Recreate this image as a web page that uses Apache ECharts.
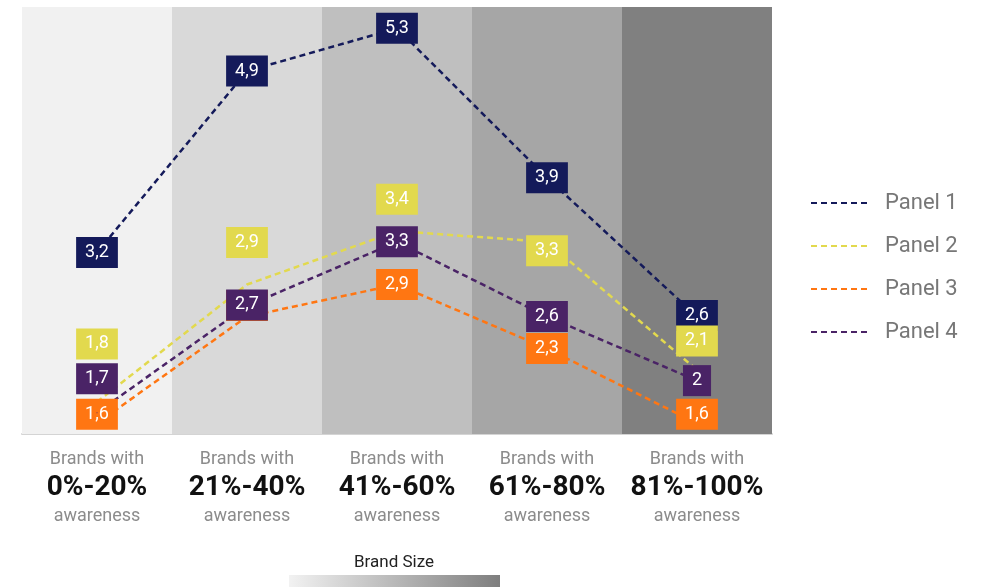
<!DOCTYPE html>
<html><head><meta charset="utf-8">
<script src="https://cdn.jsdelivr.net/npm/echarts@6/dist/echarts.min.js"></script>
<style>html,body{margin:0;padding:0;background:#fff}#c{width:984px;height:587px}</style>
</head><body><div id="c"></div>
<script>
// ---- data ----
const categories = ['0%-20%', '21%-40%', '41%-60%', '61%-80%', '81%-100%'];
const panel1 = [3.2, 4.9, 5.3, 3.9, 2.6];
const panel2 = [1.8, 2.9, 3.4, 3.3, 2.1];
const panel3 = [1.6, 2.6, 2.9, 2.3, 1.6];
const panel4 = [1.7, 2.7, 3.3, 2.6, 2.0];
const seriesNames = ['Panel 1', 'Panel 2', 'Panel 3', 'Panel 4'];
const brandSizeBands = [1, 1, 1, 1, 1];

// ---- styling (kept apart from data) ----
const colors = ['#141a5a', '#e2d94e', '#ff7612', '#4a2366'];
const bandColors = ['#f1f1f1', '#d9d9d9', '#bfbfbf', '#a6a6a6', '#808080'];
const labelNudge = [
  [0, 0, 0, 0, -1],
  [-58, -42, -32, 9, -29],
  [-9, -11, 0, 0, -9],
  [-34, -1, 0, 0, 0]
];

const fmt = v => String(v).replace('.', ',');
const allPanels = [panel1, panel2, panel3, panel4];

const lineSeries = allPanels.map((vals, si) => ({
  name: seriesNames[si],
  type: 'line',
  z: 3,
  symbol: 'none',
  color: colors[si],
  itemStyle: { color: colors[si] },
  lineStyle: { color: colors[si], width: 2.5, type: [6, 4] },
  emphasis: { disabled: true },
  data: vals
}));

const labelSeries = allPanels.map((vals, si) => ({
  name: seriesNames[si] + ' labels',
  type: 'scatter',
  z: 10 + si,
  symbolSize: 1,
  itemStyle: { color: colors[si], opacity: 1 },
  emphasis: { disabled: true },
  silent: true,
  data: vals.map((v, i) => ({
    value: v,
    label: { offset: [0, labelNudge[si][i]] }
  })),
  label: {
    show: true,
    position: 'inside',
    opacity: 1,
    formatter: p => fmt(p.value),
    color: '#fff',
    fontFamily: 'Roboto',
    fontSize: 18,
    backgroundColor: colors[si],
    padding: [7, 9, 6, 9]
  }
}));

const chart = echarts.init(document.getElementById('c'));
chart.setOption({
  animation: false,
  backgroundColor: '#fff',
  grid: { left: 22, right: 212, top: 7, bottom: 153 },
  xAxis: [{
    type: 'category',
    data: categories,
    boundaryGap: true,
    axisLine: { show: true, lineStyle: { color: '#d4d4d4', width: 2 } },
    axisTick: { show: false },
    axisLabel: {
      margin: 12,
      interval: 0,
      formatter: v => '{a|Brands with}\n{b|' + v + '}\n{c|awareness}',
      rich: {
        a: { fontFamily: 'Roboto', fontSize: 18, color: '#8c8c8c', lineHeight: 26, align: 'center' },
        b: { fontFamily: 'Roboto', fontSize: 28, fontWeight: 'bold', color: '#111', lineHeight: 31, align: 'center' },
        c: { fontFamily: 'Roboto', fontSize: 18, color: '#8c8c8c', lineHeight: 26, align: 'center' }
      }
    }
  }],
  yAxis: [
    { type: 'value', min: 1.5, max: 5.5, show: false, splitLine: { show: false } },
    { type: 'value', min: 0, max: 1, show: false, splitLine: { show: false } }
  ],
  legend: {
    orient: 'vertical',
    left: 805,
    top: 187,
    itemWidth: 60,
    itemHeight: 14,
    itemGap: 21,
    data: seriesNames,
    itemStyle: { opacity: 0 },
    textStyle: { fontFamily: 'Roboto', fontSize: 22, color: '#777', padding: [0, 0, 0, 9] },
    selectedMode: false
  },
  graphic: [
    {
      type: 'text', x: 394, y: 563,
      style: { text: 'Brand Size', fontFamily: 'Roboto', fontSize: 17, fill: '#222', align: 'center', verticalAlign: 'middle' }
    },
    {
      type: 'rect', left: 289, top: 575,
      shape: { width: 211, height: 14 },
      style: {
        fill: new echarts.graphic.LinearGradient(0, 0, 1, 0, [
          { offset: 0, color: '#f2f2f2' },
          { offset: 1, color: '#7e7e7e' }
        ])
      }
    }
  ],
  series: [
    {
      type: 'bar',
      yAxisIndex: 1,
      barWidth: '100%',
      barCategoryGap: '0%',
      z: 1,
      silent: true,
      data: brandSizeBands.map((v, i) => ({ value: v, itemStyle: { color: bandColors[i] } })),
      legendHoverLink: false
    },
    ...lineSeries,
    ...labelSeries
  ]
});
</script>
</body></html>
